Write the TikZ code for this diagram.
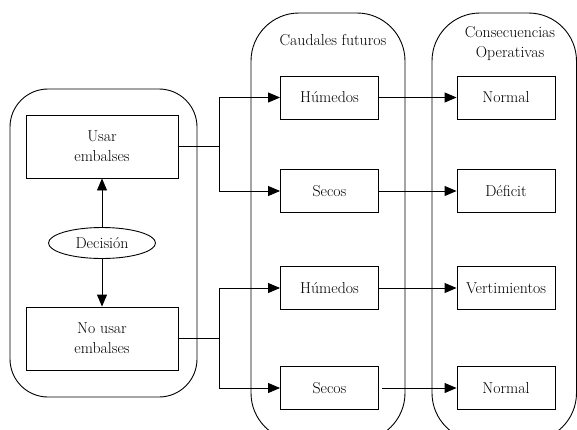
\documentclass[tikz,border=0pt]{standalone}
\usetikzlibrary{arrows.meta,shapes.geometric}
\begin{document}
\begin{tikzpicture}[x=1pt,y=-1pt,
  every node/.style={font=\fontsize{15.8}{20}\selectfont, inner sep=0pt},
  box/.style={draw, line width=0.9pt, minimum width=#1, align=center},
  box/.default=98pt,
  cont/.style={draw, line width=0.9pt},
  conn/.style={line width=0.9pt},
  arr/.style={conn, -{Triangle[length=12pt,width=10pt]}}]
\useasboundingbox (0,0) rectangle (577,429);
\clip (0,0) rectangle (577,429);
% containers
\draw[cont, rounded corners=38pt] (10,89) rectangle (197,397);
\draw[cont, rounded corners=48pt] (251,13) rectangle (405,441);
\draw[cont, rounded corners=48pt] (432,13) rectangle (576.5,441);
% titles
\node (t1) at (333,40) {Caudales futuros};
\node[align=center] (t2) at (510,44) {Consecuencias\\Operativas};
% left boxes
\node[box=152pt, minimum height=63pt] (usar) at (102,146.5) {Usar\\embalses};
\node[box=152pt, minimum height=63pt] (nousar) at (102,338.5) {No usar\\embalses};
\node[draw, line width=0.9pt, ellipse, minimum width=107pt, minimum height=31pt] (dec) at (102,243) {Decisión};
% middle boxes
\node[box, minimum height=43pt] (h1) at (329.5,97.5) {Húmedos};
\node[box, minimum height=43pt] (s1) at (329.5,191) {Secos};
\node[box, minimum height=43pt] (h2) at (329.5,288) {Húmedos};
\node[box, minimum height=43pt] (s2) at (329.5,388) {Secos};
% right boxes
\node[box, minimum height=43pt] (n1) at (506,97.5) {Normal};
\node[box, minimum height=43pt] (d1) at (506,191) {Déficit};
\node[box, minimum height=43pt] (v1) at (506,288) {Vertimientos};
\node[box, minimum height=43pt] (n2) at (506,388) {Normal};
% decision arrows
\draw[arr] (dec) -- (usar);
\draw[arr] (dec) -- (nousar);
% junctions
\coordinate (j1) at (219,146.5);
\coordinate (j2) at (219,338.5);
\draw[conn] (usar.east) -- (j1);
\draw[arr] (j1) |- (h1.west);
\draw[arr] (j1) |- (s1.west);
\draw[conn] (nousar.east) -- (j2);
\draw[arr] (j2) |- (h2.west);
\draw[arr] (j2) |- (s2.west);
% to consequences
\draw[arr] (h1) -- (n1);
\draw[arr] (s1) -- (d1);
\draw[arr] (h2) -- (v1);
\draw[arr, shorten <=3pt] (s2) -- (n2);
\end{tikzpicture}
\end{document}
